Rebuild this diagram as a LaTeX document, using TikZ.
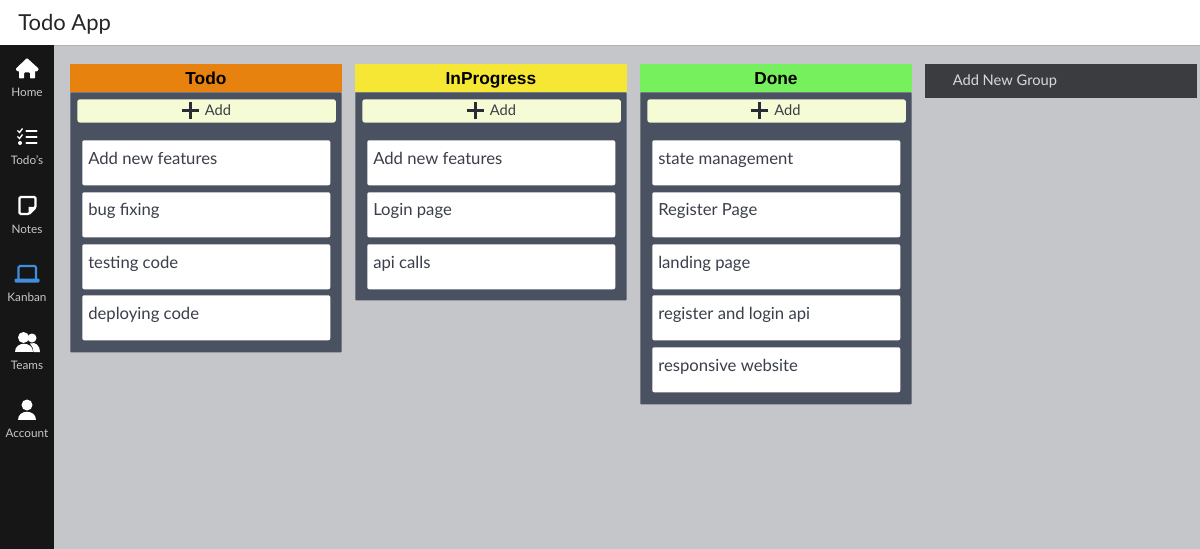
\documentclass[tikz,border=0pt]{standalone}
\usepackage{fontspec}
\setmainfont{Lato}
\newfontfamily\titlefont{Liberation Sans}
\definecolor{pagegray}{HTML}{C5C6CA}
\definecolor{sidebar}{HTML}{161616}
\definecolor{panelgray}{HTML}{4A5160}
\definecolor{addyellow}{HTML}{F5FBD5}
\definecolor{textgray}{HTML}{3A3F4A}
\definecolor{kanbanblue}{HTML}{3F8EE0}
\definecolor{groupgray}{HTML}{3B3C40}
\definecolor{todohead}{HTML}{E8820F}
\definecolor{proghead}{HTML}{F5E733}
\definecolor{donehead}{HTML}{76F05C}
\tikzset{
  panel/.style={fill=panelgray,draw=none,inner sep=0pt,minimum width=203.5pt,anchor=north west,rounded corners=0.5pt},
  head/.style={draw=none,inner sep=0pt,minimum width=203.5pt,minimum height=21pt,text height=11.5pt,text depth=2.8pt,anchor=north west,font=\titlefont\bfseries\fontsize{13}{15}\selectfont,text=black},
  addbar/.style={fill=addyellow,rounded corners=2pt,inner sep=0pt,minimum width=194pt,minimum height=17.5pt,anchor=north west},
  addtext/.style={inner sep=0pt,text=textgray,font=\fontsize{11}{13}\selectfont,anchor=base west},
  addplus/.style={textgray!70!black,line width=1.9pt},
  card/.style={fill=white,rounded corners=1.5pt,inner sep=0pt,minimum width=186pt,minimum height=33.8pt,anchor=north west},
  cardtext/.style={inner sep=0pt,text=textgray,font=\fontsize{12.5}{15}\selectfont,anchor=base west},
  navtext/.style={inner sep=0pt,text=white!78!black,font=\fontsize{8.8}{11}\selectfont,anchor=base}
}
\begin{document}
\begin{tikzpicture}[x=0.75pt,y=-0.75pt]
    \useasboundingbox (0,0) rectangle (1200,549);
    % page
    \fill [pagegray] (0,0) rectangle (1200,549);
    \fill [white] (0,0) rectangle (1200,45);
    \fill [black!30] (0,45) rectangle (1200,46.5);
    \fill [sidebar] (0,45) rectangle (54,549);
    \node [inner sep=0pt,anchor=base west,font=\fontsize{16.5}{20}\selectfont,text=black!85] (apptitle) at (18,31) {Todo App};
    % sidebar labels
    \node [navtext] (navhome) at (27,96.5) {Home};
    \node [navtext] (navtodo) at (27,164.5) {Todo's};
    \node [navtext] (navnotes) at (27,233.5) {Notes};
    \node [navtext] (navkanban) at (27,301) {Kanban};
    \node [navtext] (navteams) at (27,369) {Teams};
    \node [navtext] (navaccount) at (27,437.5) {Account};
    % home icon
    \fill [white,rounded corners=0.6pt] (15.5,69) -- (27,58) -- (39,69) -- (37,71.5) -- (17.5,71.5) -- cycle;
    \fill [white,rounded corners=0.6pt] (19,68) -- (35,68) -- (35,78.5) -- (30,78.5) -- (30,72.5) -- (24,72.5) -- (24,78.5) -- (19,78.5) -- cycle;
    % todo icon
    \draw [white,line width=1pt] (17.5,130.5) -- (19.5,132.5) -- (22.5,128.5);
    \draw [white,line width=1pt] (17.5,136.5) -- (19.5,138.5) -- (22.5,134.5);
    \fill [white] (20,143) circle (2);
    \draw [white,line width=1.7pt,line cap=round] (26.5,131) -- (36.5,131);
    \draw [white,line width=1.7pt,line cap=round] (26.5,137) -- (36.5,137);
    \draw [white,line width=1.7pt,line cap=round] (26.5,143) -- (36.5,143);
    % notes icon
    \draw [white,line width=1.7pt,rounded corners=1pt] (19.5,197) -- (35.5,197) -- (35.5,207.5) -- (29,214) -- (19.5,214) -- cycle;
    \fill [white] (28.5,214.5) -- (28.5,207) -- (36,207) -- cycle;
    % kanban icon
    \draw [kanbanblue,line width=1.6pt,rounded corners=1pt] (18.5,280.5) -- (18.5,266) -- (36,266) -- (36,280.5);
    \fill [kanbanblue,rounded corners=0.8pt] (14.5,278.5) rectangle (39.5,282.5);
    % teams icon
    \fill [white] (23.5,337.5) circle (5.5);
    \fill [white] (32,338) circle (4.5);
    \fill [white] (14.5,352) .. controls (14.5,341) and (32.5,341) .. (32.5,352) -- cycle;
    \fill [white] (30,343.5) .. controls (36,341.5) and (40,346) .. (40,352) -- (33.5,352) .. controls (33.5,349) and (32.5,346) .. (30,343.5) -- cycle;
    % account icon
    \fill [white] (27,405) circle (5.5);
    \fill [white] (18,419.5) .. controls (18,409) and (36,409) .. (36,419.5) -- cycle;
    % todo column
    \node [panel,minimum height=195pt] (todopanel) at (70,92) {};
    \node [head,fill=todohead] (todohead) at (70,64) {Todo};
    \node [addbar] (todoadd) at (77,99) {};
    \draw [addplus] (182,110.5) -- (199,110.5) (190.5,102) -- (190.5,119);
    \node [addtext] (todoaddtext) at (204.5,116) {Add};
    \node [card] (todocarda) at (82,140) {};
    \node [cardtext] (todotexta) at (88,165) {Add new features};
    \node [card] (todocardb) at (82,192) {};
    \node [cardtext] (todotextb) at (88,216) {bug fixing};
    \node [card] (todocardc) at (82,244) {};
    \node [cardtext] (todotextc) at (88,268) {testing code};
    \node [card] (todocardd) at (82,295) {};
    \node [cardtext] (todotextd) at (88,319.5) {deploying code};
    % inprogress column
    \node [panel,minimum height=156pt] (progpanel) at (355,92) {};
    \node [head,fill=proghead] (proghead) at (355,64) {InProgress};
    \node [addbar] (progadd) at (362,99) {};
    \draw [addplus] (467,110.5) -- (484,110.5) (475.5,102) -- (475.5,119);
    \node [addtext] (progaddtext) at (489.5,116) {Add};
    \node [card] (progcarda) at (367,140) {};
    \node [cardtext] (progtexta) at (373,165) {Add new features};
    \node [card] (progcardb) at (367,192) {};
    \node [cardtext] (progtextb) at (373,216) {Login page};
    \node [card] (progcardc) at (367,244) {};
    \node [cardtext] (progtextc) at (373,268) {api calls};
    % done column
    \node [panel,minimum height=234pt] (donepanel) at (640,92) {};
    \node [head,fill=donehead] (donehead) at (640,64) {Done};
    \node [addbar] (doneadd) at (647,99) {};
    \draw [addplus] (751,110.5) -- (768,110.5) (759.5,102) -- (759.5,119);
    \node [addtext] (doneaddtext) at (774,116) {Add};
    \node [card] (donecarda) at (652,140) {};
    \node [cardtext] (donetexta) at (658,165) {state management};
    \node [card] (donecardb) at (652,192) {};
    \node [cardtext] (donetextb) at (658,216) {Register Page};
    \node [card] (donecardc) at (652,244) {};
    \node [cardtext] (donetextc) at (658,268) {landing page};
    \node [card] (donecardd) at (652,295) {};
    \node [cardtext] (donetextd) at (658,319.5) {register and login api};
    \node [card] (donecarde) at (652,347) {};
    \node [cardtext] (donetexte) at (658,371) {responsive website};
    % new group
    \node [fill=groupgray,inner sep=0pt,minimum width=203.5pt,minimum height=25pt,anchor=north west] (newgroup) at (925,64) {};
    \node [inner sep=0pt,anchor=base west,text=white!85!black,font=\fontsize{11}{14}\selectfont] (newgrouptext) at (952.5,85.5) {Add New Group};
\end{tikzpicture}
\end{document}
